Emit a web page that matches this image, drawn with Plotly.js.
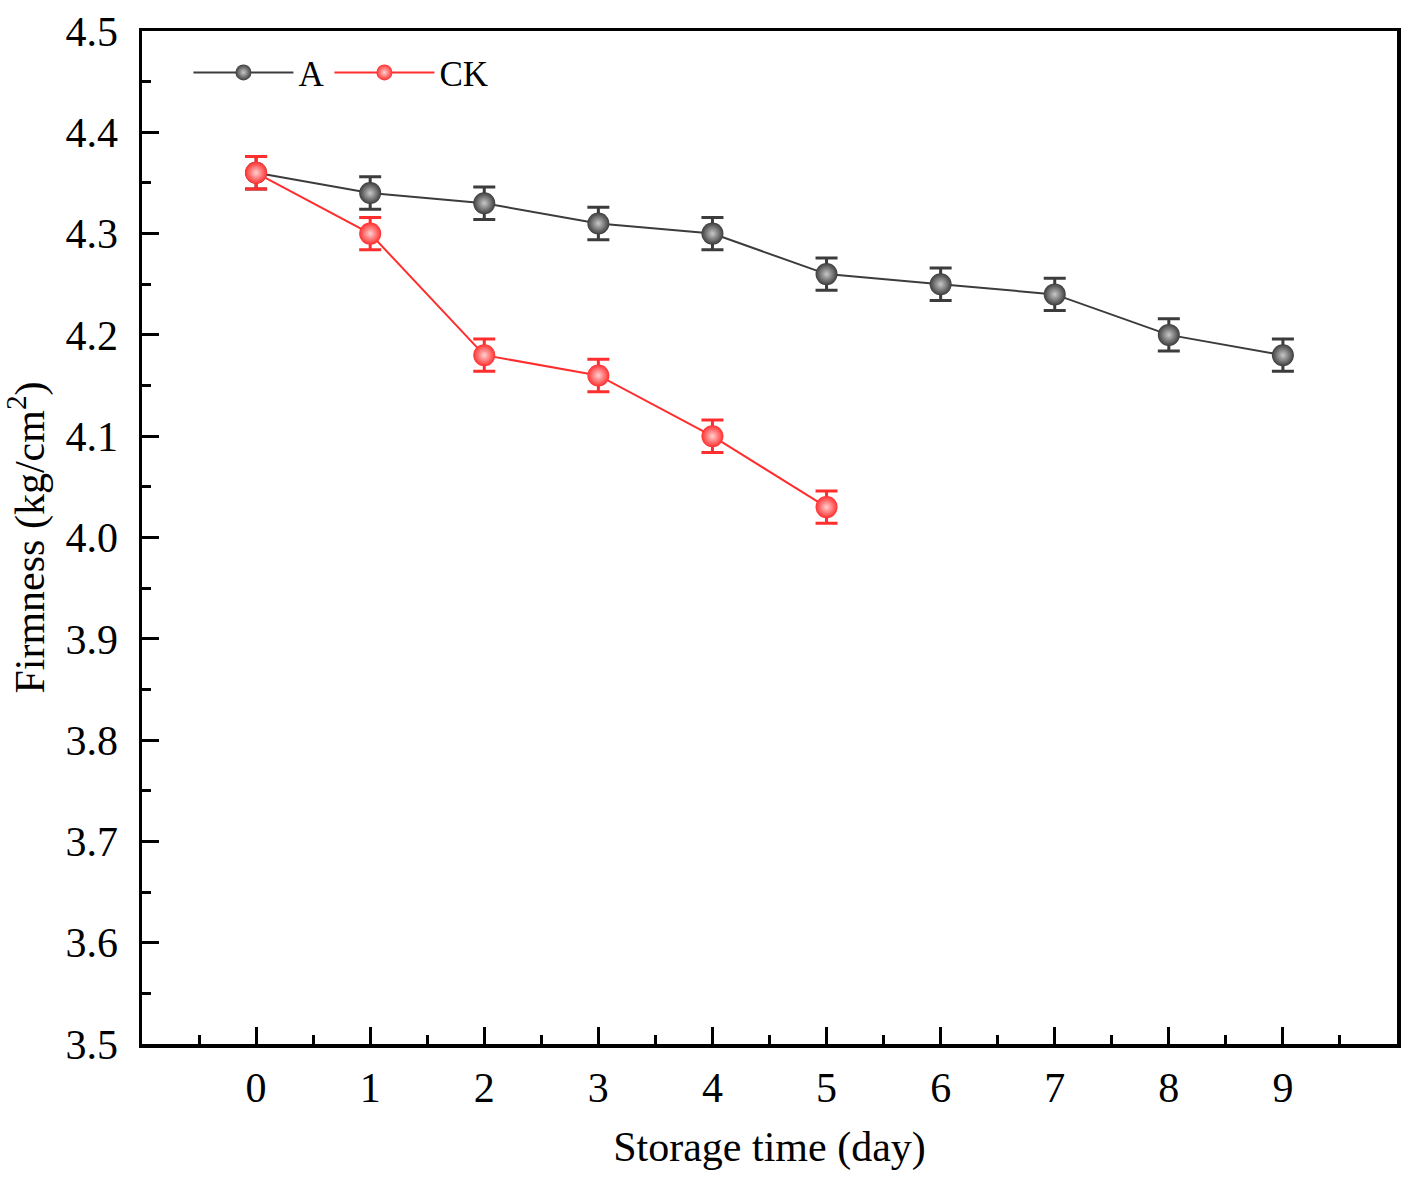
<!DOCTYPE html>
<html>
<head>
<meta charset="utf-8">
<script src="https://cdn.plot.ly/plotly-3.0.1.min.js"></script>
<style>
  html, body { margin: 0; padding: 0; background: #fff; }
  #chart { width: 1413px; height: 1181px; }
</style>
</head>
<body>
<div id="chart"></div>
<script>
// storage days
const daysA = [0, 1, 2, 3, 4, 5, 6, 7, 8, 9];
const daysCK = [0, 1, 2, 3, 4, 5];

// firmness (kg/cm2)
const firmA = [4.36, 4.34, 4.33, 4.31, 4.30, 4.26, 4.25, 4.24, 4.20, 4.18];
const firmCK = [4.36, 4.30, 4.18, 4.16, 4.10, 4.03];

// error bars
const errA = [0.016, 0.016, 0.016, 0.016, 0.016, 0.016, 0.016, 0.016, 0.016, 0.016];
const errCK = [0.016, 0.016, 0.016, 0.016, 0.016, 0.016];

const xTicks = [0, 1, 2, 3, 4, 5, 6, 7, 8, 9];

const serif = 'Liberation Serif, Times New Roman, serif';

function series(name, x, y, err, color, light) {
    return {
        x: x,
        y: y,
        name: name,
        type: 'scatter',
        mode: 'lines+markers',
        line: { color: color, width: 2 },
        marker: {
            size: 22,
            color: color,
            gradient: { type: 'radial', color: light },
            line: { width: 0 }
        },
        error_y: {
            type: 'data',
            array: err,
            visible: true,
            color: color,
            thickness: 3,
            width: 11
        }
    };
}

const traces = [
    series('A', daysA, firmA, errA, '#3c3c3c', '#c8c8c8'),
    series('CK', daysCK, firmCK, errCK, '#ff2e2e', '#ffd0d0')
];

const layout = {
    width: 1413,
    height: 1181,
    paper_bgcolor: '#fff',
    plot_bgcolor: '#fff',
    margin: { l: 142, r: 16, t: 31, b: 137 },
    font: { family: serif, color: '#000', size: 42 },
    showlegend: true,
    legend: {
        orientation: 'h',
        x: 0.037, y: 0.988,
        xanchor: 'left', yanchor: 'top',
        font: { family: serif, size: 35 },
        bgcolor: 'rgba(0,0,0,0)',
        itemwidth: 100,
        tracegroupgap: 0
    },
    xaxis: {
        range: [-1, 10],
        tickmode: 'array',
        tickvals: xTicks,
        ticktext: xTicks.map(String),
        ticks: 'inside',
        ticklen: 17,
        tickwidth: 3,
        tickcolor: '#000',
        minor: { ticks: 'inside', dtick: 0.5, tick0: 0, ticklen: 9, tickwidth: 3, tickcolor: '#000' },
        showline: true,
        linewidth: 3.5,
        linecolor: '#000',
        mirror: true,
        showgrid: false,
        zeroline: false,
        tickfont: { size: 42 },
        ticklabelstandoff: 4,
        title: { text: 'Storage time (day)', font: { size: 42 }, standoff: 22 }
    },
    yaxis: {
        range: [3.5, 4.5],
        dtick: 0.1,
        tick0: 3.5,
        tickformat: '.1f',
        ticks: 'inside',
        ticklen: 17,
        tickwidth: 3,
        tickcolor: '#000',
        minor: { ticks: 'inside', dtick: 0.05, ticklen: 9, tickwidth: 3, tickcolor: '#000' },
        showline: true,
        linewidth: 3.5,
        linecolor: '#000',
        mirror: true,
        showgrid: false,
        zeroline: false,
        tickfont: { size: 42 },
        ticklabelstandoff: 12,
        title: { text: 'Firmness (kg/cm<sup>2</sup>)', font: { size: 42 }, standoff: 12 }
    }
};

Plotly.newPlot('chart', traces, layout, { displayModeBar: false, staticPlot: true });
</script>
</body>
</html>
